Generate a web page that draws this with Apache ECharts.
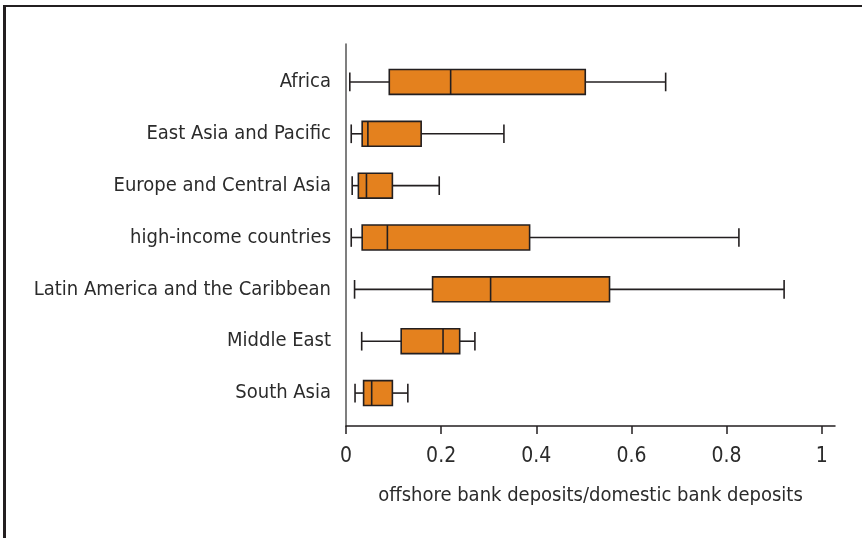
<!DOCTYPE html>
<html>
<head>
<meta charset="utf-8">
<script src="https://cdn.jsdelivr.net/npm/echarts@6/dist/echarts.min.js"></script>
<style>
  html, body { margin: 0; padding: 0; background: #fff; }
  #chart { position: absolute; left: 0; top: 0; width: 862px; height: 538px; }
  #frame { position: absolute; left: 3px; top: 5px; right: 0; bottom: 0;
           border-top: 2px solid #231f20; border-left: 3px solid #231f20; pointer-events: none; }
</style>
</head>
<body>
<div id="chart"></div>
<div id="frame"></div>
<script>
const categories = ['Africa', 'East Asia and Pacific', 'Europe and Central Asia', 'high-income countries',
                    'Latin America and the Caribbean', 'Middle East', 'South Asia'];
const whiskerLow  = [0.008, 0.011, 0.013, 0.011, 0.018, 0.033, 0.019];
const quartile1   = [0.091, 0.034, 0.026, 0.034, 0.182, 0.116, 0.037];
const medians     = [0.220, 0.046, 0.043, 0.087, 0.304, 0.204, 0.054];
const quartile3   = [0.503, 0.158, 0.0975, 0.386, 0.554, 0.239, 0.0975];
const whiskerHigh = [0.672, 0.332, 0.196, 0.826, 0.921, 0.271, 0.130];
const xTicks = [0, 0.2, 0.4, 0.6, 0.8, 1];
const xTitle = 'offshore bank deposits/domestic bank deposits';

const FONT = "'Liberation Sans Narrow', 'DejaVu Sans Condensed', 'Roboto Condensed', sans-serif";
const INK = '#231f20';

const boxData = categories.map((c, i) => [i, whiskerLow[i], quartile1[i], medians[i], quartile3[i], whiskerHigh[i]]);

function renderItem(params, api) {
  const cat = api.value(0);
  const pLo = api.coord([api.value(1), cat]);
  const pQ1 = api.coord([api.value(2), cat]);
  const pMd = api.coord([api.value(3), cat]);
  const pQ3 = api.coord([api.value(4), cat]);
  const pHi = api.coord([api.value(5), cat]);
  const band = api.size([0, 1])[1];
  const bh = band * 0.48;
  const ch = band * 0.36;
  const y = pMd[1];
  const lineStyle = { stroke: INK, lineWidth: 1.6 };
  return {
    type: 'group',
    children: [
      { type: 'line', shape: { x1: pLo[0], y1: y, x2: pQ1[0], y2: y }, style: lineStyle },
      { type: 'line', shape: { x1: pQ3[0], y1: y, x2: pHi[0], y2: y }, style: lineStyle },
      { type: 'line', shape: { x1: pLo[0], y1: y - ch / 2, x2: pLo[0], y2: y + ch / 2 }, style: lineStyle },
      { type: 'line', shape: { x1: pHi[0], y1: y - ch / 2, x2: pHi[0], y2: y + ch / 2 }, style: lineStyle },
      { type: 'rect', shape: { x: pQ1[0], y: y - bh / 2, width: pQ3[0] - pQ1[0], height: bh },
        style: { fill: '#E4811E', stroke: INK, lineWidth: 1.6 } },
      { type: 'line', shape: { x1: pMd[0], y1: y - bh / 2, x2: pMd[0], y2: y + bh / 2 }, style: lineStyle }
    ]
  };
}

const chart = echarts.init(document.getElementById('chart'), null, { renderer: 'canvas' });
chart.setOption({
  animation: false,
  backgroundColor: 'transparent',
  textStyle: { fontFamily: FONT },
  grid: [
    { left: 346, right: 27, top: 56, height: 363, containLabel: false },
    { left: 346, right: 27, top: 44, height: 382, containLabel: false }
  ],
  xAxis: [
    {
      type: 'value', gridIndex: 0, min: 0, max: 1.028, interval: 0.2, offset: 7,
      axisLine: { show: true, lineStyle: { color: INK, width: 1.5 } },
      axisTick: { show: true, length: 8, customValues: xTicks, lineStyle: { color: INK, width: 1.5 } },
      axisLabel: { customValues: xTicks, margin: 20, fontSize: 21, color: '#2b2b2b', fontFamily: FONT },
      splitLine: { show: false },
      name: xTitle, nameLocation: 'middle', nameGap: 60,
      nameTextStyle: { fontSize: 20, color: '#2b2b2b', fontFamily: FONT }
    },
    { type: 'value', gridIndex: 1, show: false }
  ],
  yAxis: [
    {
      type: 'category', gridIndex: 0, data: categories, inverse: true,
      axisLine: { show: false }, axisTick: { show: false },
      axisLabel: { margin: 15, fontSize: 20, color: '#2b2b2b', fontFamily: FONT },
      splitLine: { show: false }
    },
    {
      type: 'value', gridIndex: 1,
      axisLine: { show: true, lineStyle: { color: '#555', width: 1.5 } },
      axisTick: { show: false }, axisLabel: { show: false }, splitLine: { show: false }
    }
  ],
  series: [{
    type: 'custom',
    xAxisIndex: 0, yAxisIndex: 0,
    renderItem: renderItem,
    encode: { x: [1, 2, 3, 4, 5], y: 0 },
    data: boxData
  }]
});
</script>
</body>
</html>
